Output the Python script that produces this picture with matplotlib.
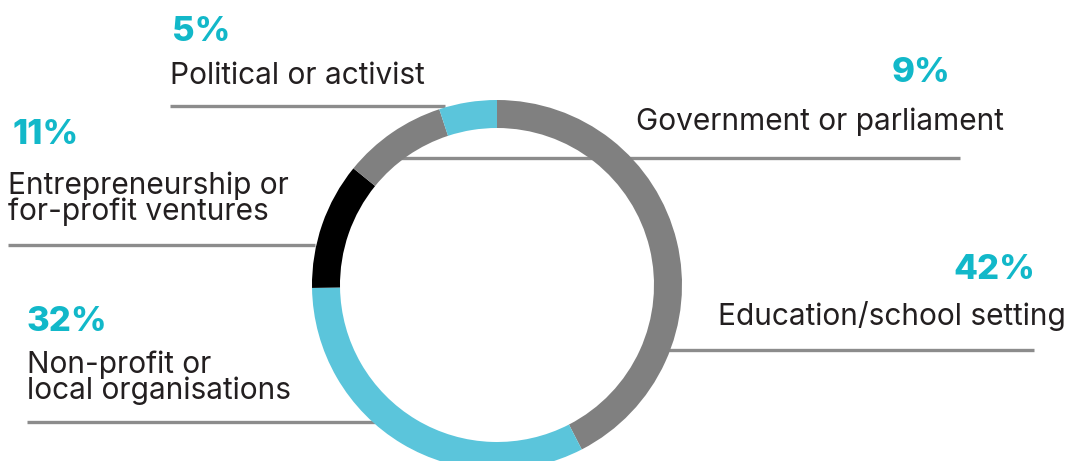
import matplotlib
matplotlib.use("Agg")
import matplotlib.pyplot as plt

# donut slices, clockwise from 12 o'clock
categories = ["Education/school setting", "Non-profit or\nlocal organisations",
              "Entrepreneurship or\nfor-profit ventures", "Government or parliament",
              "Political or activist"]
shares = [42, 32, 11, 9, 5]
slice_colors = ["#808080", "#5bc5db", "#000000", "#808080", "#5bc5db"]

TEAL = "#12b8c9"
INK = "#231f20"
RULE = "#8c8c8c"
W, H = 1067, 461

fig = plt.figure(figsize=(W / 100, H / 100), dpi=100)
ax = fig.add_axes([0, 0, 1, 1])

# ring (y axis is inverted, so counterclock in data = clockwise on screen)
ax.pie(shares, colors=slice_colors, startangle=-90, counterclock=True,
       center=(497, 285), radius=185, frame=True,
       wedgeprops=dict(width=28, linewidth=0, zorder=3))
ax.set_xlim(0, W)
ax.set_ylim(H, 0)
ax.set_aspect("auto")
ax.axis("off")

# label blocks: (pct x, pct y, pct ha, text x, text y, text ha, rule x0, rule x1, rule y)
layout = {
    "Political or activist": (172, 32, "left", 170, 76, "left", 170, 445, 106),
    "Government or parliament": (950, 73, "right", 636, 122, "left", 400, 960, 158),
    "Entrepreneurship or\nfor-profit ventures": (12, 135, "left", 8, 199, "left", 8, 315, 245),
    "Education/school setting": (1035, 270, "right", 718, 316, "left", 668, 1034, 350),
    "Non-profit or\nlocal organisations": (27, 322, "left", 27, 378, "left", 27, 375, 422),
}

for name, pct in zip(categories, shares):
    px, py, pha, tx, ty, tha, x0, x1, ry = layout[name]
    ax.text(px, py, "%d%%" % pct, color=TEAL, fontsize=25, fontweight="heavy",
            family="Inter", ha=pha, va="center")
    ax.text(tx, ty, name, color=INK, fontsize=21.5, family="Inter", ha=tha,
            va="center", linespacing=0.9)
    ax.plot([x0, x1], [ry, ry], color=RULE, lw=2.4, solid_capstyle="butt", zorder=1)

fig.savefig("out.png", dpi=100)
